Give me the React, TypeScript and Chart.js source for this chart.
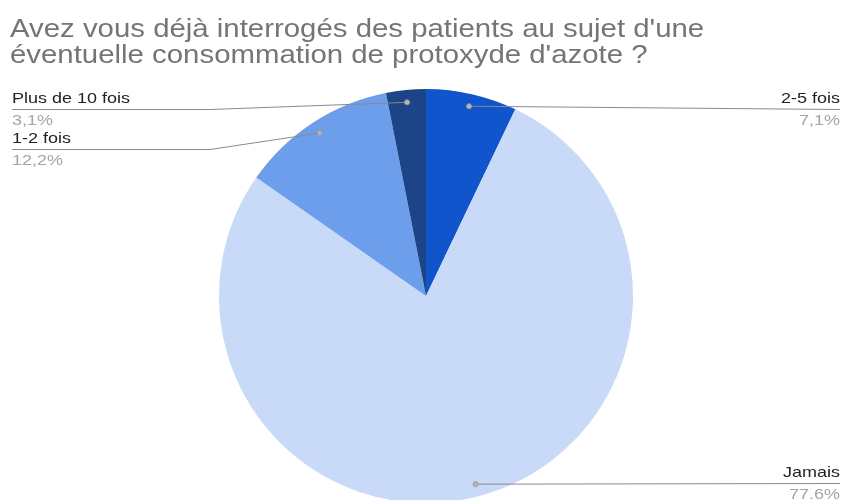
import React, { useEffect, useRef } from "react";
import { Chart, registerables } from "chart.js";

Chart.register(...registerables);

const categories = ["2-5 fois", "Jamais", "1-2 fois", "Plus de 10 fois"];
const values = [7.1, 77.6, 12.2, 3.1];
const percentLabels = ["7,1%", "77.6%", "12,2%", "3,1%"];
const colors = ["#1155cc", "#c9daf8", "#6d9eeb", "#1c4587"];
const titleLines = [
  "Avez vous déjà interrogés des patients au sujet d'une",
  "éventuelle consommation de protoxyde d'azote ?",
];

// label layout: side, text x, label baseline, line y, elbow x
const labelLayout = [
  { side: "right", x: 840, base: 103, lineY: 109, elbowX: 520 },
  { side: "right", x: 840, base: 477, lineY: 483, elbowX: 520 },
  { side: "left", x: 12, base: 143, lineY: 149, elbowX: 210 },
  { side: "left", x: 12, base: 103, lineY: 109, elbowX: 210 },
];

const FONT = "'Liberation Sans', Arial, sans-serif";

function stretchedText(ctx: CanvasRenderingContext2D, text: string, x: number, y: number, s: number) {
  ctx.save();
  ctx.translate(x, y);
  ctx.scale(s, 1);
  ctx.fillText(text, 0, 0);
  ctx.restore();
}

const overlayPlugin = {
  id: "overlay",
  afterDraw(chart: any) {
    const ctx = chart.ctx as CanvasRenderingContext2D;
    ctx.save();
    // title
    ctx.fillStyle = "#757575";
    ctx.font = `25px ${FONT}`;
    ctx.textAlign = "left";
    ctx.textBaseline = "alphabetic";
    stretchedText(ctx, titleLines[0], 10, 37, 1.175);
    stretchedText(ctx, titleLines[1], 10, 63, 1.175);

    const meta = chart.getDatasetMeta(0);
    meta.data.forEach((arc: any, i: number) => {
      const p = arc.getProps(["x", "y", "startAngle", "endAngle", "outerRadius"], true);
      const mid = (p.startAngle + p.endAngle) / 2;
      const r = p.outerRadius * 0.94;
      const dx = p.x + Math.cos(mid) * r;
      const dy = p.y + Math.sin(mid) * r;
      const L = labelLayout[i];
      // leader line
      ctx.strokeStyle = "#8a8a8a";
      ctx.lineWidth = 1;
      ctx.beginPath();
      ctx.moveTo(dx, dy);
      if (L.side === "left") {
        ctx.lineTo(L.elbowX, L.lineY + 0.5);
        ctx.lineTo(L.x, L.lineY + 0.5);
      } else {
        ctx.lineTo(L.x, L.lineY + 0.5);
      }
      ctx.stroke();
      // dot
      ctx.beginPath();
      ctx.arc(dx, dy, 2.5, 0, Math.PI * 2);
      ctx.fillStyle = "#b8b8b8";
      ctx.fill();
      ctx.strokeStyle = "#999999";
      ctx.stroke();
      // texts
      ctx.textAlign = L.side === "right" ? "right" : "left";
      ctx.font = `15px ${FONT}`;
      ctx.fillStyle = "#222222";
      stretchedText(ctx, categories[i], L.x, L.base, 1.2);
      ctx.fillStyle = "#a5a5a5";
      stretchedText(ctx, percentLabels[i], L.x, L.lineY + 16, 1.2);
    });
    ctx.restore();
  },
};

export default function App() {
  const ref = useRef<HTMLCanvasElement | null>(null);
  useEffect(() => {
    document.body.style.margin = "0";
    const chart = new Chart(ref.current!, {
      type: "pie",
      data: {
        labels: categories,
        datasets: [
          {
            data: values,
            backgroundColor: colors,
            borderWidth: 0,
            radius: 207,
          } as any,
        ],
      },
      options: {
        responsive: false,
        animation: false,
        layout: { padding: { top: 92, bottom: 0, left: 9, right: 0 } },
        plugins: {
          legend: { display: false },
          tooltip: { enabled: false },
          title: { display: false },
        },
      },
      plugins: [overlayPlugin],
    });
    return () => chart.destroy();
  }, []);
  return (
    <div style={{ width: 843, height: 500, background: "#fff" }}>
      <canvas ref={ref} width={843} height={500} />
    </div>
  );
}
